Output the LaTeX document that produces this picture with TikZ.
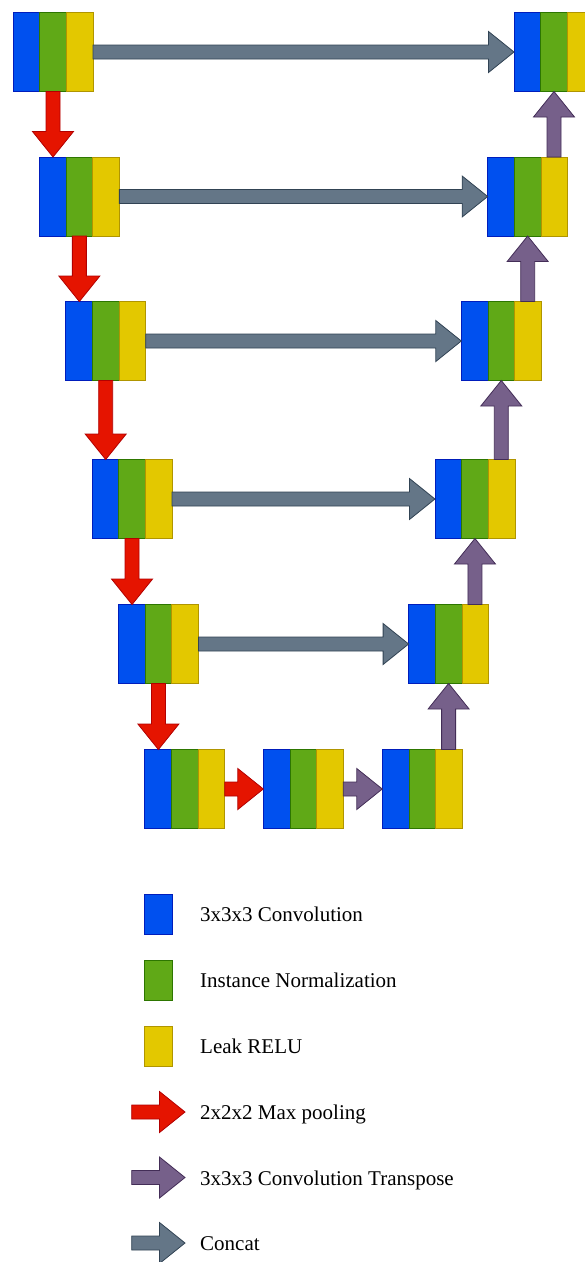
\documentclass[tikz,border=0pt]{standalone}
\usepackage{fontspec}
\setmainfont{Liberation Serif}
\usetikzlibrary{calc}

\definecolor{convfill}{HTML}{0050EF}\definecolor{convline}{HTML}{001DBC}
\definecolor{normfill}{HTML}{60A917}\definecolor{normline}{HTML}{2D7600}
\definecolor{relufill}{HTML}{E3C800}\definecolor{reluline}{HTML}{B09500}
\definecolor{poolfill}{HTML}{E51400}\definecolor{poolline}{HTML}{B20000}
\definecolor{upfill}{HTML}{76608A}\definecolor{upline}{HTML}{432D57}
\definecolor{catfill}{HTML}{647687}\definecolor{catline}{HTML}{314354}

\tikzset{
  unit block/.style={minimum width=80pt, minimum height=79pt, inner sep=0pt,
                     outer sep=0pt, anchor=north west},
  conv/.style={fill=convfill, draw=convline, line width=0.8pt},
  norm/.style={fill=normfill, draw=normline, line width=0.8pt},
  relu/.style={fill=relufill, draw=reluline, line width=0.8pt},
  pool/.style={fill=poolfill, draw=poolline, line width=0.8pt},
  upconv/.style={fill=upfill, draw=upline, line width=0.8pt},
  concat/.style={fill=catfill, draw=catline, line width=0.8pt},
  swatch/.style={minimum width=28pt, minimum height=40pt, inner sep=0pt, outer sep=0pt},
  legend text/.style={anchor=base west, inner sep=0pt,
                      font=\fontsize{21pt}{25pt}\selectfont},
}

% one conv / norm / activation stack, top-left corner at (#2,#3)
\newcommand\unetblock[3]{%
  \node[unit block] (#1) at (#2,#3) {};
  \draw[conv] (#1.north west) rectangle ($(#1.south west)!1/3!(#1.south east)$);
  \draw[norm] ($(#1.north west)!1/3!(#1.north east)$) rectangle ($(#1.south west)!2/3!(#1.south east)$);
  \draw[relu] ($(#1.north west)!2/3!(#1.north east)$) rectangle (#1.south east);
}

% wide block arrow from #2 to #3
\newcommand\blockarrow[3]{%
  \draw[#1] let \p1=(#2), \p2=(#3),
      \n1={atan2(\y2-\y1,\x2-\x1)}, \n2={veclen(\x2-\x1,\y2-\y1)}
    in [shift={(\p1)}, rotate=\n1]
      (0pt,-7pt) -- ({(\n2-25.5)*1pt},-7pt) -- ({(\n2-25.5)*1pt},-20.5pt)
      -- ({\n2*1pt},0pt)
      -- ({(\n2-25.5)*1pt},20.5pt) -- ({(\n2-25.5)*1pt},7pt) -- (0pt,7pt) -- cycle;
}

\begin{document}
\begin{tikzpicture}[x=1pt, y=-1pt]
  \path[use as bounding box, clip] (0,0) rectangle (585,1262);
  \fill[white] (0,0) rectangle (585,1262);

  % encoder side
  \unetblock{L1}{13}{12.5}
  \unetblock{L2}{39.35}{157}
  \unetblock{L3}{65.7}{301.5}
  \unetblock{L4}{92.05}{459.5}
  \unetblock{L5}{118.4}{604.5}
  % bottleneck row
  \unetblock{B1}{144.75}{749.5}
  \unetblock{B2}{263.3}{749.5}
  \unetblock{B3}{382.25}{749.5}
  % decoder side
  \unetblock{R1}{514}{12.5}
  \unetblock{R2}{487.65}{157}
  \unetblock{R3}{461.3}{301.5}
  \unetblock{R4}{434.95}{459.5}
  \unetblock{R5}{408.6}{604.5}

  % skip connections
  \blockarrow{concat}{L1.east}{R1.west}
  \blockarrow{concat}{L2.east}{R2.west}
  \blockarrow{concat}{L3.east}{R3.west}
  \blockarrow{concat}{L4.east}{R4.west}
  \blockarrow{concat}{L5.east}{R5.west}

  % downsampling
  \blockarrow{pool}{L1.south}{L1.south |- L2.north}
  \blockarrow{pool}{L2.south}{L2.south |- L3.north}
  \blockarrow{pool}{L3.south}{L3.south |- L4.north}
  \blockarrow{pool}{L4.south}{L4.south |- L5.north}
  \blockarrow{pool}{L5.south}{L5.south |- B1.north}
  \blockarrow{pool}{B1.east}{B2.west}

  % upsampling
  \blockarrow{upconv}{B2.east}{B3.west}
  \blockarrow{upconv}{R5.south |- B3.north}{R5.south}
  \blockarrow{upconv}{R4.south |- R5.north}{R4.south}
  \blockarrow{upconv}{R3.south |- R4.north}{R3.south}
  \blockarrow{upconv}{R2.south |- R3.north}{R2.south}
  \blockarrow{upconv}{R1.south |- R2.north}{R1.south}

  % legend
  \node[swatch, conv] (k1) at (158.3,914) {};
  \node[swatch, norm] (k2) at (158.3,980) {};
  \node[swatch, relu] (k3) at (158.3,1046) {};
  \coordinate (a4s) at (131.7,1112);  \coordinate (a4e) at (185,1112);
  \coordinate (a5s) at (131.7,1177.5); \coordinate (a5e) at (185,1177.5);
  \coordinate (a6s) at (131.7,1243);  \coordinate (a6e) at (185,1243);
  \blockarrow{pool}{a4s}{a4e}
  \blockarrow{upconv}{a5s}{a5e}
  \blockarrow{concat}{a6s}{a6e}

  \node[legend text] (t1) at (200,921.5) {3x3x3 Convolution};
  \node[legend text] (t2) at (200,987.5) {Instance Normalization};
  \node[legend text] (t3) at (200,1053.5) {Leak RELU};
  \node[legend text] (t4) at (200,1119.5) {2x2x2 Max pooling};
  \node[legend text] (t5) at (200,1185) {3x3x3 Convolution Transpose};
  \node[legend text] (t6) at (200,1250.5) {Concat};
\end{tikzpicture}
\end{document}
